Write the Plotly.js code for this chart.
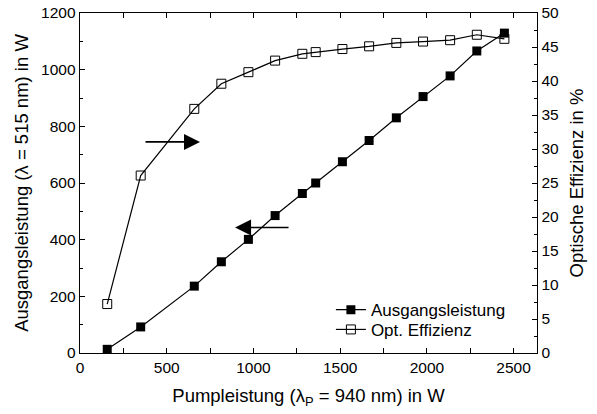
<!DOCTYPE html>
<html><head><meta charset="utf-8">
<script src="https://cdn.plot.ly/plotly-3.0.1.min.js"></script>
<style>body{margin:0;background:#fff}#c{width:597px;height:414px}</style>
</head><body><div id="c"></div>
<script>
const pumpPower = [157, 350, 659, 815, 971, 1125, 1282, 1359, 1513, 1667, 1824, 1978, 2134, 2288, 2447];
const outputPower = [13, 92, 236, 322, 401, 485, 563, 600, 675, 750, 830, 905, 978, 1066, 1129];
const efficiency = [7.2, 26.1, 35.9, 39.6, 41.3, 43.0, 44.0, 44.25, 44.7, 45.1, 45.6, 45.8, 46.0, 46.8, 46.2];
const seriesNames = ["Ausgangsleistung", "Opt. Effizienz"];

const font = {family: "Arial, 'Liberation Sans', sans-serif", size: 15.5, color: "#000"};
const traces = [
  {x: pumpPower, y: outputPower, name: seriesNames[0], type: "scatter", mode: "lines+markers", legend: "legend",
   line: {color: "#000", width: 1.2}, marker: {symbol: "square", size: 9, color: "#000"}},
  {x: pumpPower, y: efficiency, name: seriesNames[1], yaxis: "y2", type: "scatter", mode: "lines+markers", legend: "legend2",
   line: {color: "#000", width: 1.2}, marker: {symbol: "square-open", size: 9, color: "#000", line: {width: 1}}}
];
const axCommon = {showgrid: false, zeroline: false, showline: true, linecolor: "#000", linewidth: 1.3,
  ticks: "inside", ticklen: 5, tickcolor: "#000", tickfont: {size: 15.5}};
const legCommon = {x: 0.549, xanchor: "left", yanchor: "middle", bgcolor: "rgba(0,0,0,0)",
  font: {size: 17}, borderwidth: 0};
const layout = {
  width: 597, height: 414, font: font,
  margin: {l: 80, r: 60, t: 13, b: 61},
  paper_bgcolor: "#fff", plot_bgcolor: "#fff",
  showlegend: true,
  legend: Object.assign({}, legCommon, {y: 0.126}),
  legend2: Object.assign({}, legCommon, {y: 0.068}),
  xaxis: Object.assign({}, axCommon, {range: [0, 2635], dtick: 500, tick0: 0, mirror: "allticks",
    minor: {dtick: 250, ticklen: 3, ticks: "inside", tickcolor: "#000"},
    title: {text: "Pumpleistung (λ<sub>P</sub> = 940 nm) in W", font: {size: 18.5}, standoff: 14}}),
  yaxis: Object.assign({}, axCommon, {range: [0, 1200], dtick: 200,
    minor: {dtick: 100, ticklen: 3, ticks: "inside", tickcolor: "#000"},
    title: {text: "Ausgangsleistung (λ = 515 nm) in W", font: {size: 18.5}, standoff: 7}}),
  yaxis2: Object.assign({}, axCommon, {range: [0, 50], dtick: 5, overlaying: "y", side: "right",
    minor: {dtick: 2.5, ticklen: 3, ticks: "inside", tickcolor: "#000"},
    title: {text: "Optische Effizienz in %", font: {size: 18.5}, standoff: 12}}),
  annotations: [
    {x: 692, y: 745, ax: 369, ay: 745, axref: "x", ayref: "y", xref: "x", yref: "y",
     showarrow: true, arrowhead: 2, arrowsize: 2, arrowwidth: 1.6, arrowcolor: "#000", text: ""},
    {x: 894, y: 443, ax: 1211, ay: 443, axref: "x", ayref: "y", xref: "x", yref: "y",
     showarrow: true, arrowhead: 2, arrowsize: 2, arrowwidth: 1.6, arrowcolor: "#000", text: ""}
  ]
};
Plotly.newPlot("c", traces, layout, {staticPlot: true});
</script></body></html>
